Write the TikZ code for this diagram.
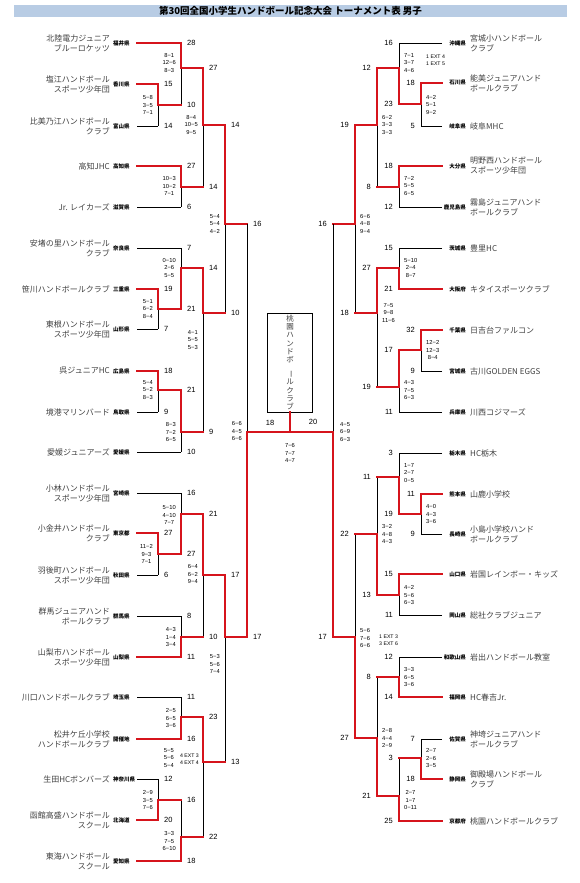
\documentclass[tikz,border=0pt]{standalone}
\usepackage{fontspec}
\setmainfont{Liberation Sans}
\newfontfamily\jp{Noto Sans CJK JP}
\usetikzlibrary{calc}
\definecolor{hred}{RGB}{214,20,28}
\definecolor{titlebg}{RGB}{184,204,228}

\def\leftmatches{158/84/126/84/105/181/10/153/105/{5−8\\3−5\\7−1},
  158/289/329/289/309/181/21/153/309/{5−1\\6−2\\8−4},
  158/371/412/371/390/181/21/153/390/{5−4\\5−2\\8−3},
  158/533/575/533/554/181/27/153/554/{11−2\\9−3\\7−1},
  158/779/820/820/800/181/16/153/800/{2−9\\3−5\\7−6},
  181/43/105/43/68/203/27/176/63/{8−1\\12−6\\8−3},
  181/166/207/166/187/203/14/176/186/{10−3\\10−2\\7−1},
  181/248/309/309/268/203/14/176/268/{0−10\\2−6\\5−5},
  181/390/452/390/432/203/9/176/432/{8−3\\7−2\\6−5},
  181/493/554/554/514/203/21/176/515/{5−10\\4−10\\7−7},
  181/616/657/657/637/203/10/176/637/{4−3\\1−4\\3−4},
  181/697/739/739/717/203/23/176/718/{2−5\\6−5\\3−6},
  181/800/861/861/837/203/22/176/841/{3−3\\7−5\\6−10},
  203/68/187/68/125/225/14/198/125/{8−4\\10−5\\9−5},
  203/268/432/268/313/225/10/198/340/{4−1\\5−5\\5−3},
  203/514/637/514/575/225/17/198/574/{6−4\\6−2\\9−4},
  203/717/837/717/762/225/13/174/758/{5−5\\5−6\\5−4},
  225/125/313/125/224/247/16/220/224/{5−4\\5−4\\4−2},
  225/575/762/575/637/247/17/220/664/{5−3\\5−6\\7−4}}

\def\rightmatches{421/83/126/83/104/399/23/426/105/{4−2\\5−1\\9−2},
  421/330/371/330/350/399/17/426/350/{12−2\\12−3\\8−4},
  421/494/534/494/514/399/19/426/514/{4−0\\4−3\\3−6},
  421/739/779/779/758/399/3/426/758/{2−7\\2−6\\3−5},
  399/43/104/104/68/377/12/404/63/{7−1\\3−7\\4−6},
  399/166/207/166/187/377/8/404/186/{7−2\\5−5\\6−5},
  399/248/289/289/268/377/27/404/268/{5−10\\2−4\\8−7},
  399/350/412/350/387/377/19/404/390/{4−3\\7−5\\6−3},
  399/453/514/514/477/377/11/404/473/{1−7\\2−7\\0−5},
  399/574/615/574/595/377/13/404/595/{4−2\\5−6\\6−3},
  399/657/697/697/677/377/8/404/677/{3−3\\6−5\\3−6},
  399/758/821/821/796/377/21/404/800/{2−7\\1−7\\0−11},
  377/68/187/68/125/355/19/382/125/{6−2\\3−3\\3−3},
  377/268/387/268/313/355/18/382/313/{7−5\\9−8\\11−6},
  377/477/595/595/534/355/22/382/534/{3−2\\4−8\\4−3},
  377/677/796/796/738/355/27/382/738/{2−8\\4−4\\2−9},
  355/125/313/125/224/333/16/360/224/{6−6\\4−8\\9−4},
  355/534/738/738/637/333/17/360/638/{5−6\\7−6\\6−6}}

\begin{document}
\begin{tikzpicture}[
  x=1pt, y=-1pt,
  win/.style={draw=hred, line width=2.2pt, line cap=rect},
  lose/.style={draw=black, line width=0.9pt},
  team/.style={font=\jp\fontsize{8}{10}\selectfont, text=black!75, inner sep=0pt},
  pref/.style={font=\jp\bfseries\fontsize{5.5}{6}\selectfont, inner sep=0pt},
  pts/.style={font=\fontsize{7.5}{8}\selectfont, inner sep=0pt},
  sets/.style={font=\fontsize{5.8}{7.5}\selectfont, align=center, inner sep=0pt},
  ext/.style={font=\fontsize{5.2}{7}\selectfont, align=left, inner sep=0pt}
]
\useasboundingbox[fill=white] (0,0) rectangle (580,883);

\fill[titlebg] (14,5) rectangle (567,17);
\node[font=\jp\bfseries\fontsize{9.5}{10}\selectfont, inner sep=0pt] (title) at (290.5,11)
  {第30回全国小学生ハンドボール記念大会 トーナメント表 男子};

% left half
\foreach \n/\y/\xe/\st/\team/\pref/\pt in {
  1/43/181/win/{北陸電力ジュニア\\ブルーロケッツ}/福井県/28,
  2/84/158/win/{塩江ハンドボール\\スポーツ少年団}/香川県/15,
  3/126/158/lose/{比美乃江ハンドボール\\クラブ}/富山県/14,
  4/166/181/win/高知JHC/高知県/27,
  5/207/181/lose/Jr. レイカーズ/滋賀県/6,
  6/248/181/lose/{安堵の里ハンドボール\\クラブ}/奈良県/7,
  7/289/158/win/笹川ハンドボールクラブ/三重県/19,
  8/329/158/lose/{東根ハンドボール\\スポーツ少年団}/山形県/7,
  9/371/158/win/呉ジュニアHC/広島県/18,
  10/412/158/lose/境港マリンバード/鳥取県/9,
  11/452/181/lose/愛媛ジュニアーズ/愛媛県/10,
  12/493/181/lose/{小林ハンドボール\\スポーツ少年団}/宮崎県/16,
  13/533/158/win/{小金井ハンドボール\\クラブ}/東京都/27,
  14/575/158/lose/{羽後町ハンドボール\\スポーツ少年団}/秋田県/6,
  15/616/181/lose/{群馬ジュニアハンド\\ボールクラブ}/群馬県/8,
  16/657/181/win/{山梨市ハンドボール\\スポーツ少年団}/山梨県/11,
  17/697/181/lose/川口ハンドボールクラブ/埼玉県/11,
  18/739/181/win/{松井ケ丘小学校\\ハンドボールクラブ}/開催地/16,
  19/779/158/lose/生田HCボンバーズ/神奈川県/12,
  20/820/158/win/{函館高盛ハンドボール\\スクール}/北海道/20,
  21/861/181/win/{東海ハンドボール\\スクール}/愛知県/18} {
  \draw[\st] (137,\y) -- (\xe,\y);
  \node[team, anchor=east, align=right] (tl\n) at (110,\y) {\team};
  \node[pref, anchor=west] (pl\n) at (113,\y) {\pref};
  \node[pts, anchor=west] (sl\n) at (\xe+6,\y) {\pt};
}
\foreach \x/\ya/\yb/\yw/\yo/\xo/\pt/\sx/\ys/\sets in \leftmatches
  \draw[lose] (\x,\ya) -- (\x,\yb);
\foreach \x/\ya/\yb/\yw/\yo/\xo/\pt/\sx/\ys/\sets in \leftmatches {
  \draw[win] (\x,\yw) -- (\x,\yo) -- (\xo,\yo);
  \node[pts, anchor=west] (ml-\x-\yo) at (\xo+6,\yo) {\pt};
  \node[sets, anchor=east] (gl-\x-\yo) at (\sx,\ys) {\sets};
}
\node[ext, anchor=east] (extl) at (199,759) {4 EXT 3\\4 EXT 4};

% right half
\foreach \n/\y/\xe/\st/\team/\pref/\pt in {
  1/43/399/lose/{宮城小ハンドボール\\クラブ}/沖縄県/16,
  2/83/421/win/{能美ジュニアハンド\\ボールクラブ}/石川県/18,
  3/126/421/lose/岐阜MHC/岐阜県/5,
  4/166/399/win/{明野西ハンドボール\\スポーツ少年団}/大分県/18,
  5/207/399/lose/{霧島ジュニアハンド\\ボールクラブ}/鹿児島県/12,
  6/248/399/lose/豊里HC/茨城県/15,
  7/289/399/win/キタイスポーツクラブ/大阪府/21,
  8/330/421/win/日吉台ファルコン/千葉県/32,
  9/371/421/lose/古川GOLDEN EGGS/宮城県/9,
  10/412/399/lose/川西コジマーズ/兵庫県/11,
  11/453/399/lose/HC栃木/栃木県/3,
  12/494/421/win/山鹿小学校/熊本県/11,
  13/534/421/lose/{小島小学校ハンド\\ボールクラブ}/長崎県/9,
  14/574/399/win/岩国レインボー・キッズ/山口県/15,
  15/615/399/lose/総社クラブジュニア/岡山県/11,
  16/657/399/lose/岩出ハンドボール教室/和歌山県/12,
  17/697/399/win/HC春吉Jr./福岡県/14,
  18/739/421/lose/{神埼ジュニアハンド\\ボールクラブ}/佐賀県/7,
  19/779/421/win/{御殿場ハンドボール\\クラブ}/静岡県/18,
  20/821/399/win/桃園ハンドボールクラブ/京都府/25} {
  \draw[\st] (442,\y) -- (\xe,\y);
  \node[team, anchor=west, align=left] (tr\n) at (470,\y) {\team};
  \node[pref, anchor=east] (pr\n) at (466,\y) {\pref};
  \node[pts, anchor=east] (sr\n) at (\xe-6,\y) {\pt};
}
\foreach \x/\ya/\yb/\yw/\yo/\xo/\pt/\sx/\ys/\sets in \rightmatches
  \draw[lose] (\x,\ya) -- (\x,\yb);
\foreach \x/\ya/\yb/\yw/\yo/\xo/\pt/\sx/\ys/\sets in \rightmatches {
  \draw[win] (\x,\yw) -- (\x,\yo) -- (\xo,\yo);
  \node[pts, anchor=east] (mr-\x-\yo) at (\xo-6,\yo) {\pt};
  \node[sets, anchor=west] (gr-\x-\yo) at (\sx,\ys) {\sets};
}
\node[ext, anchor=west] (extr1) at (426,60) {1 EXT 4\\1 EXT 5};
\node[ext, anchor=west] (extr2) at (379,640) {1 EXT 3\\3 EXT 6};

% final
\node[draw, line width=0.8pt, minimum width=45pt, minimum height=99pt, inner sep=0pt,
  align=center, text=black!75, font=\jp\fontsize{7.5}{8.2}\selectfont] (champ) at (290,362.5)
  {桃\\園\\ハ\\ン\\ド\\ボ\\\rotatebox{-90}{ー}\\ル\\ク\\ラ\\ブ};
\coordinate (fin) at (290,432);
\draw[lose] (247,224) -- (247,637);
\draw[lose] (333,224) -- (333,637);
\draw[win] (247,637) -- (247,432) -- (fin);
\draw[win] (333,637) -- (333,432) -- (fin);
\draw[win] (fin) -- (champ.south);
\node[pts] (finl) at (270,423) {18};
\node[pts] (finr) at (313,422) {20};
\node[sets, anchor=east] (sfl) at (242,431) {6−6\\4−5\\6−6};
\node[sets, anchor=west] (sfr) at (340,432) {4−5\\6−9\\6−3};
\node[sets] (sfin) at (290,453) {7−6\\7−7\\4−7};
\end{tikzpicture}
\end{document}
